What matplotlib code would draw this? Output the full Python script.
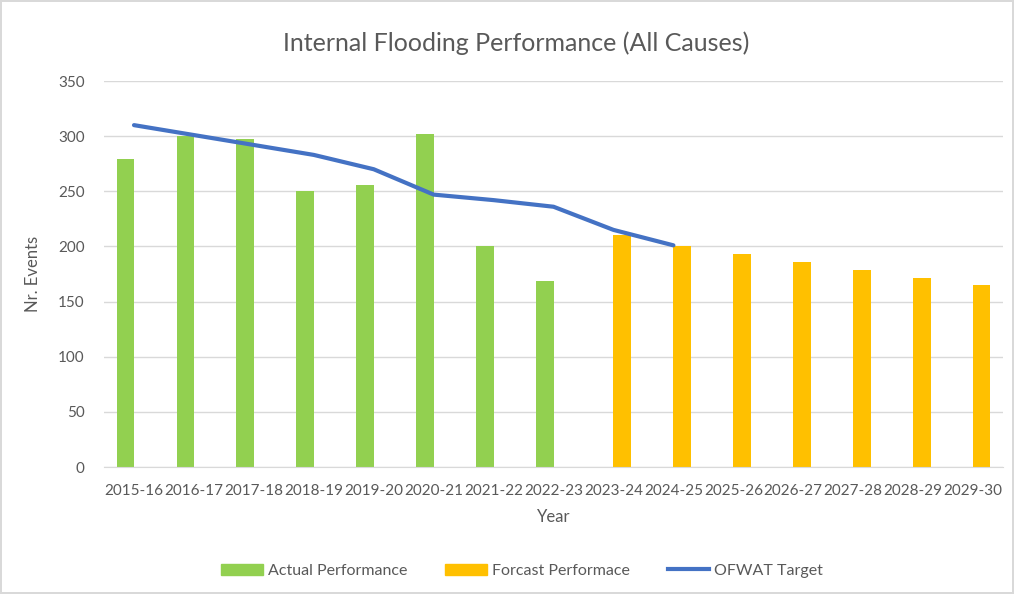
import numpy as np
import matplotlib.pyplot as plt
from matplotlib.lines import Line2D
from matplotlib.patches import Patch

plt.rcParams['font.family'] = ['Lato', 'DejaVu Sans']

# Daten
years = ['2015-16', '2016-17', '2017-18', '2018-19', '2019-20', '2020-21',
         '2021-22', '2022-23', '2023-24', '2024-25', '2025-26', '2026-27',
         '2027-28', '2028-29', '2029-30']
actual = [279, 300, 297, 250, 256, 302, 200, 169]
forecast = [210, 200, 193, 186, 179, 171, 165]
target = [310, 301, 292, 283, 270, 247, 242, 236, 215, 201]

green = '#92d050'
yellow = '#ffc000'
blue = '#4472c4'
grey = '#595959'

fig = plt.figure(figsize=(10.14, 5.94), dpi=100)
fig.patch.set_edgecolor('#d9d9d9')
fig.patch.set_linewidth(1.5)
ax = fig.add_axes([0.1026, 0.2138, 0.8866, 0.6498])

x = np.arange(len(years))
w = 0.29
n_act = len(actual)
ax.bar(x[:n_act], actual, width=-w, align='edge', color=green, zorder=2)
ax.bar(x[n_act:], forecast, width=w, align='edge', color=yellow, zorder=2)
ax.plot(x[:len(target)], target, color=blue, lw=3, solid_capstyle='round',
        zorder=3)

ax.set_xlim(-0.5, len(years) - 0.5)
ax.set_ylim(0, 350)
ax.set_yticks(range(0, 351, 50))
ax.grid(axis='y', color='#d9d9d9', lw=1, zorder=0)
ax.set_xticks(x)
ax.set_xticklabels(years)
ax.tick_params(length=0, labelsize=11, labelcolor=grey)
ax.tick_params(axis='x', pad=12)
ax.tick_params(axis='y', pad=14)
for s in ['top', 'right', 'left']:
    ax.spines[s].set_visible(False)
ax.spines['bottom'].set_color('#d9d9d9')

ax.set_xlabel('Year', fontsize=12, color=grey, labelpad=8)
ax.set_ylabel('Nr. Events', fontsize=12, color=grey, labelpad=12)
fig.text(0.509, 0.928, 'Internal Flooding Performance (All Causes)',
         ha='center', va='center', fontsize=18, color=grey)

handles = [Patch(color=green, label='Actual Performance'),
           Patch(color=yellow, label='Forcast Performace'),
           Line2D([], [], color=blue, lw=3, label='OFWAT Target')]
fig.legend(handles=handles, loc='center', bbox_to_anchor=(0.515, 0.039),
           ncol=3, frameon=False, fontsize=11.5, labelcolor=grey,
           handlelength=2.6, handletextpad=0.3, columnspacing=2.4)

fig.savefig('out.png', dpi=100)
